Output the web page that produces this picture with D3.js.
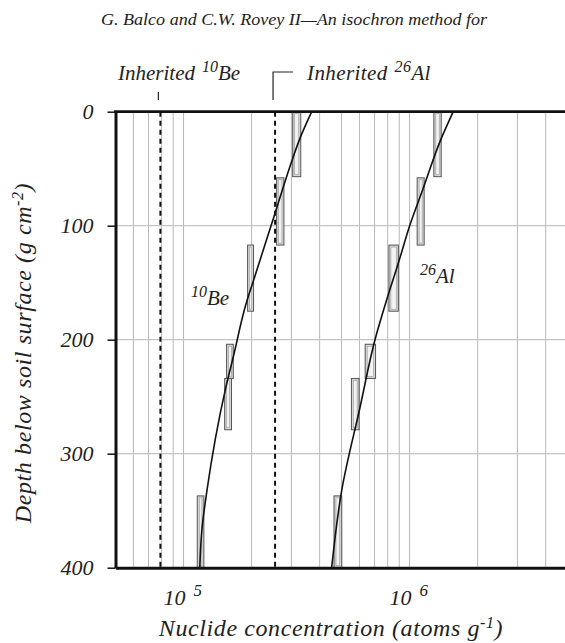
<!DOCTYPE html>
<html>
<head>
<meta charset="utf-8">
<script src="https://cdn.jsdelivr.net/npm/d3@7"></script>
<style>
  body { margin: 0; background: #fff; }
  svg text { font-family: "Liberation Serif", "DejaVu Serif", serif; font-style: italic; fill: #222; }
</style>
</head>
<body>
<svg id="chart" width="565" height="643"></svg>
<script>
// measured boxes: [depth top, depth bottom, conc low, conc high]
const beBoxes = [
  [0, 57, 3.04e5, 3.30e5],
  [58, 117, 2.58e5, 2.78e5],
  [117, 175, 1.92e5, 2.04e5],
  [204, 234, 1.55e5, 1.66e5],
  [234, 279, 1.52e5, 1.63e5],
  [337, 400, 1.15e5, 1.23e5],
];
const alBoxes = [
  [0, 57, 1.28e6, 1.38e6],
  [58, 117, 1.08e6, 1.16e6],
  [117, 175, 8.1e5, 8.92e5],
  [204, 234, 6.36e5, 7.07e5],
  [234, 279, 5.53e5, 5.98e5],
  [337, 400, 4.63e5, 5.01e5],
];
// model curves: [conc, depth]
const beCurve = [
  [3.69e5, 0], [3.28e5, 23], [3.04e5, 41], [2.54e5, 89], [2.04e5, 148],
  [1.90e5, 167], [1.66e5, 215], [1.53e5, 244], [1.27e5, 332], [1.205e5, 367], [1.18e5, 400],
];
const alCurve = [
  [1.56e6, 0], [1.364e6, 26], [1.15e6, 67], [1.005e6, 99], [8.91e5, 133],
  [7.92e5, 165], [7.03e5, 200], [6.04e5, 259], [5.01e5, 332], [4.52e5, 400],
];
const inheritedBe = 7.9e4;
const inheritedAl = 2.54e5;
const yTicks = [0, 100, 200, 300, 400];
const xLabelTicks = [1e5, 1e6];

const svg = d3.select("#chart");
const plotLeft = 115.5, plotTop = 111.7, plotBottom = 567.7, plotRight = 567.6;

const x = d3.scaleLog().domain([5e4, 5e6]).range([plotLeft, plotRight]);
const y = d3.scaleLinear().domain([0, 400]).range([plotTop, plotBottom]);

// header
svg.append("text")
  .attr("x", 101).attr("y", 25)
  .attr("font-size", 16.5)
  .attr("textLength", 386).attr("lengthAdjust", "spacingAndGlyphs")
  .text("G. Balco and C.W. Rovey II\u2014An isochron method for");

// grid
const grid = svg.append("g");
grid.selectAll("line.v")
  .data(x.ticks().filter(d => d > 5e4))
  .join("line")
  .attr("x1", d => x(d)).attr("x2", d => x(d))
  .attr("y1", plotTop).attr("y2", plotBottom)
  .attr("stroke", "#b8b8b8").attr("stroke-width", 1);
grid.selectAll("line.h")
  .data(yTicks.filter(d => d > 0 && d < 400))
  .join("line")
  .attr("x1", plotLeft).attr("x2", 565)
  .attr("y1", d => y(d)).attr("y2", d => y(d))
  .attr("stroke", "#c4c4c4").attr("stroke-width", 1.2);

// inherited lines
svg.selectAll("line.inh")
  .data([inheritedBe, inheritedAl])
  .join("line")
  .attr("x1", d => x(d)).attr("x2", d => x(d))
  .attr("y1", plotTop).attr("y2", plotBottom)
  .attr("stroke", "#111").attr("stroke-width", 2)
  .attr("stroke-dasharray", "5,4");

// boxes
function drawBoxes(data) {
  const g = svg.append("g");
  g.selectAll("rect.o").data(data).join("rect")
    .attr("x", d => x(d[2])).attr("y", d => y(d[0]))
    .attr("width", d => x(d[3]) - x(d[2]))
    .attr("height", d => y(d[1]) - y(d[0]))
    .attr("fill", "#d6d6d6").attr("stroke", "#555").attr("stroke-width", 1);
  g.selectAll("rect.i").data(data).join("rect")
    .attr("x", d => x(d[2]) + 2).attr("y", d => y(d[0]) + 2)
    .attr("width", d => Math.max(0, x(d[3]) - x(d[2]) - 4))
    .attr("height", d => y(d[1]) - y(d[0]) - 4)
    .attr("fill", "#f2f2f2").attr("stroke", "#999").attr("stroke-width", 0.6);
}
drawBoxes(beBoxes);
drawBoxes(alBoxes);

// curves
const line = d3.line()
  .x(d => x(d[0])).y(d => y(d[1]))
  .curve(d3.curveMonotoneY);
[beCurve, alCurve].forEach(c => {
  svg.append("path").attr("d", line(c))
    .attr("fill", "none").attr("stroke", "#111").attr("stroke-width", 1.6);
});

// y axis
const yAxis = svg.append("g")
  .attr("transform", `translate(${plotLeft},0)`)
  .call(d3.axisLeft(y).tickValues(yTicks).tickSize(8).tickSizeOuter(0).tickPadding(14));
yAxis.attr("font-family", null);
yAxis.select(".domain").attr("stroke", "#111").attr("stroke-width", 3);
yAxis.selectAll(".tick line").attr("stroke", "#111").attr("stroke-width", 1.5);
yAxis.selectAll(".tick text")
  .attr("font-size", 22).attr("fill", "#222");

// top and bottom frame
svg.append("line")
  .attr("x1", plotLeft - 1.5).attr("x2", 565).attr("y1", plotTop).attr("y2", plotTop)
  .attr("stroke", "#111").attr("stroke-width", 2.8);
const xAxis = svg.append("g")
  .attr("transform", `translate(0,${plotBottom})`)
  .call(d3.axisBottom(x).tickValues(xLabelTicks).tickSize(0).tickFormat(""));
xAxis.select(".domain").attr("stroke", "#111").attr("stroke-width", 3);

// x tick labels: 10 with exponent
const xl = svg.selectAll("text.xl").data(xLabelTicks).join("text")
  .attr("x", d => x(d) - 20).attr("y", 605)
  .attr("font-size", 22);
xl.append("tspan").text("10");
xl.append("tspan").attr("dx", 8).attr("dy", -9).attr("font-size", 17)
  .text(d => Math.round(Math.log10(d)));

// axis titles
const yt = svg.append("text")
  .attr("transform", "translate(31,353) rotate(-90)")
  .attr("text-anchor", "middle")
  .attr("font-size", 24).attr("letter-spacing", 0.6);
yt.append("tspan").text("Depth below soil surface (g cm");
yt.append("tspan").attr("dy", -8).attr("font-size", 16).text("-2");
yt.append("tspan").attr("dy", 8).text(")");

const xt = svg.append("text")
  .attr("x", 331).attr("y", 636)
  .attr("text-anchor", "middle")
  .attr("font-size", 24).attr("letter-spacing", 0.6);
xt.append("tspan").text("Nuclide concentration (atoms g");
xt.append("tspan").attr("dy", -8).attr("font-size", 16).text("-1");
xt.append("tspan").attr("dy", 8).text(")");

// inherited labels and markers
const ib = svg.append("text").attr("x", 118).attr("y", 80).attr("font-size", 21);
ib.append("tspan").text("Inherited");
ib.append("tspan").attr("dx", 7).attr("dy", -8).attr("font-size", 16).text("10");
ib.append("tspan").attr("dy", 8).text("Be");
svg.append("line")
  .attr("x1", x(inheritedBe) - 2).attr("x2", x(inheritedBe) - 2)
  .attr("y1", 92).attr("y2", 100)
  .attr("stroke", "#222").attr("stroke-width", 1.2);

const ia = svg.append("text").attr("x", 307).attr("y", 80).attr("font-size", 21)
  .attr("letter-spacing", 0.4);
ia.append("tspan").text("Inherited");
ia.append("tspan").attr("dx", 7).attr("dy", -8).attr("font-size", 16).text("26");
ia.append("tspan").attr("dy", 8).text("Al");
svg.append("path")
  .attr("d", `M${x(inheritedAl) - 2},100V72H293`)
  .attr("fill", "none").attr("stroke", "#222").attr("stroke-width", 1.2);

// curve labels
const lb = svg.append("text").attr("x", 191).attr("y", 305).attr("font-size", 21);
lb.append("tspan").attr("dy", -8).attr("font-size", 16).text("10");
lb.append("tspan").attr("dy", 8).text("Be");
const la = svg.append("text").attr("x", 420).attr("y", 283).attr("font-size", 21);
la.append("tspan").attr("dy", -8).attr("font-size", 16).text("26");
la.append("tspan").attr("dy", 8).text("Al");
</script>
</body>
</html>
